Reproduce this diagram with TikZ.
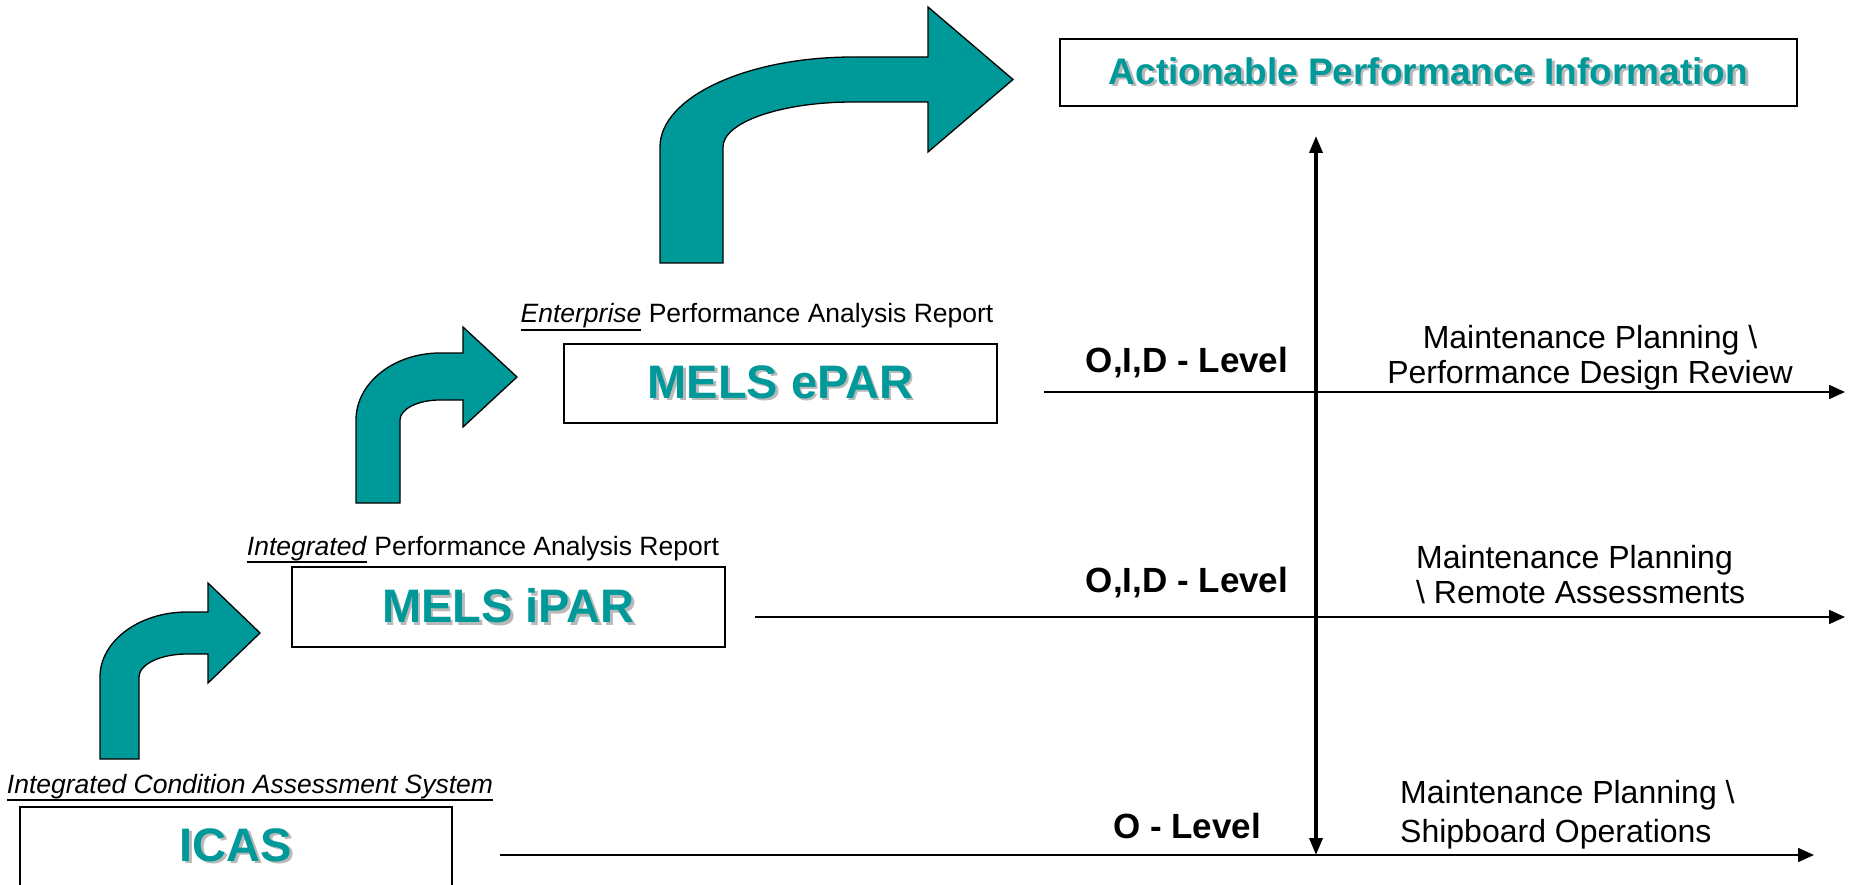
\documentclass[tikz,border=0pt]{standalone}
\usepackage{fontspec}
\setmainfont{Liberation Sans}
\usetikzlibrary{arrows.meta}

\definecolor{melsteal}{RGB}{0,153,153}
\definecolor{shadowgrey}{RGB}{185,185,185}

\newcommand{\shadowtext}[1]{\makebox[0pt][l]{\kern2.5pt\raisebox{-2.5pt}{\color{shadowgrey}#1}}{\color{melsteal}#1}}
\newcommand{\thickul}[1]{\leavevmode\vtop{\hbox{#1}\kern0.6pt\hrule height 1.6pt}}

\tikzset{
	bentarrow/.style={draw=black, fill=melsteal, line width=1.3pt, line join=miter},
	levelbox/.style={draw=black, line width=1.8pt, fill=white, inner sep=0pt},
	boxtext/.style={font=\fontsize{47}{50}\selectfont\bfseries},
	reporttitle/.style={anchor=base, inner sep=0pt, font=\fontsize{26.5}{30}\selectfont},
	levelname/.style={anchor=base, inner sep=0pt, font=\fontsize{35}{38}\selectfont\bfseries},
	usetext/.style={inner sep=0pt, font=\fontsize{32}{35}\selectfont},
	levelline/.style={line width=1.7pt, -{Triangle[length=16pt, width=14pt]}},
	scaleline/.style={line width=3.5pt, {Triangle[length=17pt, width=13pt]}-{Triangle[length=17pt, width=13pt]}}
}

\begin{document}
\begin{tikzpicture}[x=1pt, y=-1pt]

	\useasboundingbox (0,0) rectangle (1858,885);

	% bent arrows: stem left/right, stem bottom, body top/bottom, bend radii, head back, head top/bottom, tip
	\foreach \xl/\xr/\yb/\yt/\ybb/\rx/\ry/\xh/\hu/\hd/\xt in {100/139/759/612/654/87/65/208/583/683/260, 356/400/503/353/400/84/67/463/327/427/517, 660/723/263/57/102/193/90/928/7/152/1013}{
		\draw[bentarrow] (\xl,\yb) -- (\xl,{\yt+\ry})
			.. controls (\xl,{\yt+0.448*\ry}) and ({\xl+0.448*\rx},\yt) .. ({\xl+\rx},\yt)
			-- (\xh,\yt) -- (\xh,\hu) -- (\xt,{(\hu+\hd)/2}) -- (\xh,\hd) -- (\xh,\ybb) -- ({\xl+\rx},\ybb)
			.. controls ({\xl+\rx-0.552*(\rx-\xr+\xl)},\ybb) and (\xr,{\yt+\ry-0.552*(\ry-\ybb+\yt)}) .. (\xr,{\yt+\ry})
			-- (\xr,\yb) -- cycle;
	}

	% the three report boxes and the goal
	\node[levelbox, boxtext, minimum width=432pt, minimum height=80pt] (icas) at (236,847) {\raisebox{4.5pt}{\shadowtext{ICAS}}};
	\node[levelbox, boxtext, minimum width=433pt, minimum height=80pt] (ipar) at (508.5,607) {\shadowtext{MELS iPAR}};
	\node[levelbox, boxtext, minimum width=433pt, minimum height=79pt] (epar) at (780.5,383.5) {\shadowtext{MELS ePAR}};
	\node[levelbox, minimum width=737pt, minimum height=67pt, font=\fontsize{37}{40}\selectfont\bfseries] (api) at (1428.5,72.5) {\shadowtext{Actionable Performance Information}};

	\node[reporttitle] (icastitle) at (250,793) {\thickul{\textit{Integrated Condition Assessment System}}};
	\node[reporttitle] (ipartitle) at (483,555) {\thickul{\textit{Integrated}} Performance Analysis Report};
	\node[reporttitle] (epartitle) at (757,323) {\thickul{\textit{Enterprise}} Performance Analysis Report};

	% level lines
	\foreach \n/\xs/\xe/\y in {top/1044/1845/392, mid/755/1845/617, low/500/1814/855}{
		\coordinate (\n-start) at (\xs,\y);
		\coordinate (\n-end) at (\xe,\y);
		\draw[levelline] (\n-start) -- (\n-end);
	}

	\coordinate (scaletop) at (1316,136);
	\coordinate (scalebottom) at (1316,855);
	\draw[scaleline] (scalebottom) -- (scaletop);

	\node[levelname] (oidtop) at (1187,372) {O,I,D - Level};
	\node[levelname] (oidmid) at (1187,592) {O,I,D - Level};
	\node[levelname] (olow) at (1187,838) {O - Level};

	\node[usetext, align=center, anchor=north] (designreview) at (1590,325) {Maintenance Planning \textbackslash\\Performance Design Review};
	\node[usetext, align=left, anchor=north west] (remote) at (1416,545) {Maintenance Planning\\\textbackslash{} Remote Assessments};
	\node[usetext, align=left, anchor=north west] (shipboard) at (1400,780) {Maintenance Planning \textbackslash\\[4pt]Shipboard Operations};

\end{tikzpicture}
\end{document}
